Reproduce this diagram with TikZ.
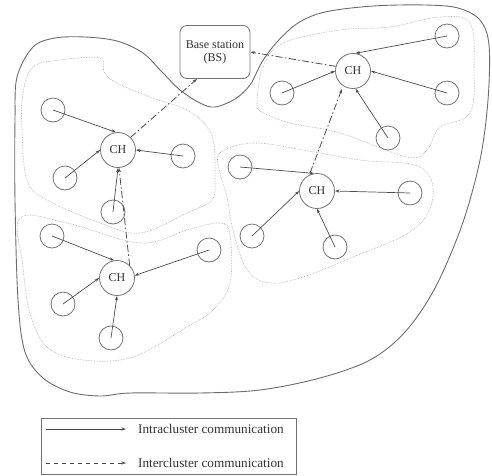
\documentclass[tikz,border=0pt]{standalone}
\usepackage{fontspec}
\setmainfont{Liberation Serif}
\usetikzlibrary{arrows.meta}
\usetikzlibrary{positioning}
\newcommand{\netfont}{\fontsize{12}{13}\selectfont}
\newcommand{\keyfont}{\fontsize{13.2}{14}\selectfont}

\tikzset{
  sensor/.style={circle, draw=gray!90!black, line width=0.8pt, minimum size=24pt, inner sep=0pt},
  head/.style={circle, draw=gray!90!black, line width=0.8pt, minimum size=35pt, inner sep=0pt, font=\netfont, text=black!80},
  intra/.style={draw=gray!60!black, line width=0.7pt, -{Stealth[length=4.5pt,width=3pt]}},
  inter/.style={draw=gray!60!black, line width=0.8pt, dash pattern=on 7pt off 2.5pt on 1.5pt off 2.5pt, -{Stealth[length=4.5pt,width=3pt]}},
  cluster/.style={draw=gray!70, line width=0.6pt, densely dotted},
  field/.style={draw=gray!85!black, line width=0.9pt}
}

\begin{document}
\begin{tikzpicture}[x=1pt, y=-1pt]
  \useasboundingbox (0,0) rectangle (492,475);
  % The field:
  \draw[field] plot[smooth cycle, tension=0.55] coordinates {
    (17,77) (33,47) (55,38) (85,37) (117,41) (143,53) (162,72) (180,90)
    (200,103) (215,107) (235,99) (250,85) (262,62) (277,42) (298,23)
    (325,12) (373,6) (425,5) (458,8) (480,20) (489,45) (488,100) (480,160)
    (462,225) (435,288) (405,332) (370,360) (320,378) (260,390) (200,393)
    (130,393) (100,396) (70,392) (43,378) (25,352) (18,300) (15,200) (15,120)};
  % Clusters:
  \draw[cluster] plot[smooth cycle, tension=0.6] coordinates {
    (23,93) (33,67) (60,60) (100,58) (104,72) (117,83) (150,97) (187,110)
    (207,127) (214,145) (215,180) (212,200) (187,213) (140,233) (100,223)
    (47,200) (27,180) (22,130)};
  \draw[cluster] plot[smooth cycle, tension=0.6] coordinates {
    (257,103) (263,67) (283,43) (340,30) (390,27) (440,17) (470,23) (474,67)
    (470,113) (440,127) (427,150) (407,157) (340,133) (290,123) (262,112)};
  \draw[cluster] plot[smooth cycle, tension=0.6] coordinates {
    (220,153) (253,143) (303,150) (360,160) (420,167) (433,197) (413,230)
    (353,257) (303,277) (270,283) (247,270) (233,230) (227,197) (220,173)};
  \draw[cluster] plot[smooth cycle, tension=0.6] coordinates {
    (20,218) (67,223) (140,243) (187,230) (220,223) (230,235) (230,283)
    (213,310) (187,327) (133,357) (83,360) (47,347) (30,313) (23,267)};

  % Base station:
  \node[draw=gray!90!black, line width=0.8pt, rounded corners=7pt, minimum width=70pt,
        minimum height=53pt, align=center, font=\netfont, text=black!80] (bs) at (215,52)
        {Base station\\(BS)};

  % Cluster heads:
  \node[head] (ch1) at (118,150) {CH};
  \node[head] (ch2) at (353,71) {CH};
  \node[head] (ch3) at (317,191) {CH};
  \node[head] (ch4) at (117,278) {CH};

  % Sensors:
  \node[sensor] (s11) at (53,110) {};
  \node[sensor] (s12) at (65,178) {};
  \node[sensor] (s13) at (183,156) {};
  \node[sensor] (s14) at (113,212) {};
  \node[sensor] (s21) at (447,36) {};
  \node[sensor] (s22) at (282,93) {};
  \node[sensor] (s23) at (447,93) {};
  \node[sensor] (s24) at (388,138) {};
  \node[sensor] (s31) at (240,167) {};
  \node[sensor] (s32) at (410,193) {};
  \node[sensor] (s33) at (252,236) {};
  \node[sensor] (s34) at (335,247) {};
  \node[sensor] (s41) at (52,236) {};
  \node[sensor] (s42) at (209,250) {};
  \node[sensor] (s43) at (63,304) {};
  \node[sensor] (s44) at (111,338) {};

  % Intracluster links:
  \draw[intra] (s11.center) -- (ch1.97);
  \draw[intra] (s12.center) -- (ch1.west);
  \draw[intra] (s13.center) -- (ch1.east);
  \draw[intra] (s14.center) -- (ch1.south);
  \draw[intra] (s21.center) -- (ch2.82);
  \draw[intra] (s22.center) -- (ch2.west);
  \draw[intra] (s23.center) -- (ch2.east);
  \draw[intra] (s24.center) -- (ch2.-82);
  \draw[intra] (s31.center) -- (ch3.100);
  \draw[intra] (s32.center) -- (ch3.east);
  \draw[intra] (s33.center) -- (ch3.west);
  \draw[intra] (s34.center) -- (ch3.south);
  \draw[intra] (s41.center) -- (ch4.100);
  \draw[intra] (s42.center) -- (ch4.8);
  \draw[intra] (s43.center) -- (ch4.west);
  \draw[intra] (s44.center) -- (ch4.south);

  % Intercluster links:
  \draw[inter] (ch1.45) -- ([xshift=-18pt]bs.south);
  \draw[inter] (ch2.165) -- (bs.east);
  \draw[inter] ([xshift=-7pt]ch3.north) -- ([xshift=-11pt]ch2.south);
  \draw[inter] (ch4.45) -- ([xshift=1pt]ch1.south);

  % Legend:
  \draw[draw=gray!90!black, line width=0.8pt] (41,418) rectangle (296,474);
  \coordinate (la) at (46,429);
  \coordinate (lb) at (126,429);
  \coordinate (lc) at (46,463);
  \coordinate (ld) at (126,463);
  \draw[intra] (la) -- (lb);
  \draw[intra, dash pattern=on 4pt off 4pt] (lc) -- (ld);
  \node[anchor=west, font=\keyfont, text=black!80, inner sep=0pt] (intratext) at (138,429) {Intracluster communication};
  \node[anchor=west, font=\keyfont, text=black!80, inner sep=0pt] (intertext) at (138,463) {Intercluster communication};
\end{tikzpicture}
\end{document}
